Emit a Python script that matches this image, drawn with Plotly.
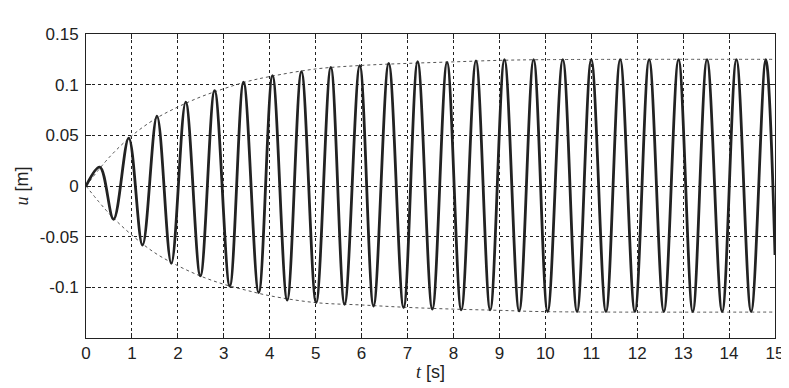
import plotly.graph_objects as go

# Extrema of the response u(t)
t_ext = [0, 0.30, 0.60, 0.93, 1.23, 1.545, 1.857, 2.17, 2.49, 2.80, 3.13, 3.43, 3.76,
         4.06, 4.38, 4.69, 5.01, 5.33, 5.63, 5.96, 6.26, 6.59, 6.915, 7.22, 7.54, 7.86,
         8.17, 8.49, 8.80, 9.11, 9.43, 9.745, 10.05, 10.38, 10.69, 11.0, 11.32, 11.63,
         11.95, 12.26, 12.58, 12.90, 13.21, 13.52, 13.85, 14.16, 14.48, 14.80, 15.0]
u_ext = [0, 0.0187, -0.0328, 0.0473, -0.0584, 0.0689, -0.0764, 0.0827, -0.0886, 0.0942,
         -0.0987, 0.1024, -0.1053, 0.109, -0.1125, 0.1129, -0.1151, 0.1171, -0.1167,
         0.1188, -0.1184, 0.1211, -0.120, 0.1227, -0.1214, 0.122, -0.1223, 0.1234,
         -0.1223, 0.1247, -0.1233, 0.1247, -0.124, 0.1247, -0.124, 0.1247, -0.124,
         0.1247, -0.124, 0.1247, -0.124, 0.1247, -0.124, 0.1247, -0.124, 0.1247,
         -0.124, 0.1247, -0.068]

# Envelope curves
t_env = [0, 0.5, 1, 1.5, 2, 2.5, 3, 3.5, 4, 5, 6, 7, 8, 9, 10, 15]
u_env_up = [0, 0.028, 0.0497, 0.066, 0.078, 0.088, 0.096, 0.103, 0.108, 0.1155,
            0.119, 0.121, 0.1225, 0.124, 0.1247, 0.125]
u_env_lo = [0, -0.027, -0.0485, -0.066, -0.0787, -0.089, -0.097, -0.103, -0.1083,
            -0.1151, -0.1174, -0.1198, -0.1215, -0.1227, -0.124, -0.1244]

x_ticks = list(range(0, 16))
y_ticks = [-0.1, -0.05, 0, 0.05, 0.1, 0.15]
y_ticktext = ["-0.1", "-0.05", "0", "0.05", "0.1", "0.15"]

fig = go.Figure()
for ue in (u_env_up, u_env_lo):
    fig.add_trace(go.Scatter(x=t_env, y=ue, mode="lines",
                             line=dict(color="#555555", width=1, dash="dot", shape="spline"),
                             hoverinfo="skip", showlegend=False))
fig.add_trace(go.Scatter(x=t_ext, y=u_ext, mode="lines",
                         line=dict(color="#222222", width=2.8, shape="spline", smoothing=1.0),
                         showlegend=False))

fig.update_layout(
    width=781, height=380,
    margin=dict(l=78, r=14, t=26, b=50),
    paper_bgcolor="white", plot_bgcolor="white",
    font=dict(family="Liberation Sans, Arial, sans-serif", size=17, color="#222222"),
)
fig.update_xaxes(range=[0, 15], tickvals=x_ticks, ticks="inside", ticklen=5,
                 tickcolor="#222222", showline=True, linecolor="#222222", linewidth=1,
                 mirror="ticks", showgrid=True, gridcolor="#222222", gridwidth=1,
                 griddash="dot", zeroline=False, automargin=False,
                 title=dict(text='<span style="font-family:Liberation Serif"><i>t</i></span> [s]',
                            standoff=2, font=dict(size=18)))
fig.update_yaxes(range=[-0.15, 0.15], tickvals=y_ticks, ticktext=y_ticktext,
                 ticks="inside", ticklen=5, tickcolor="#222222", showline=True,
                 linecolor="#222222", linewidth=1, mirror="ticks", showgrid=True,
                 gridcolor="#222222", gridwidth=1, griddash="dot", zeroline=False,
                 ticklabelstandoff=3, automargin=False,
                 title=dict(text='<span style="font-family:Liberation Serif"><i>u</i></span> [m]',
                            standoff=6, font=dict(size=18)))

fig.write_html("out.html")
